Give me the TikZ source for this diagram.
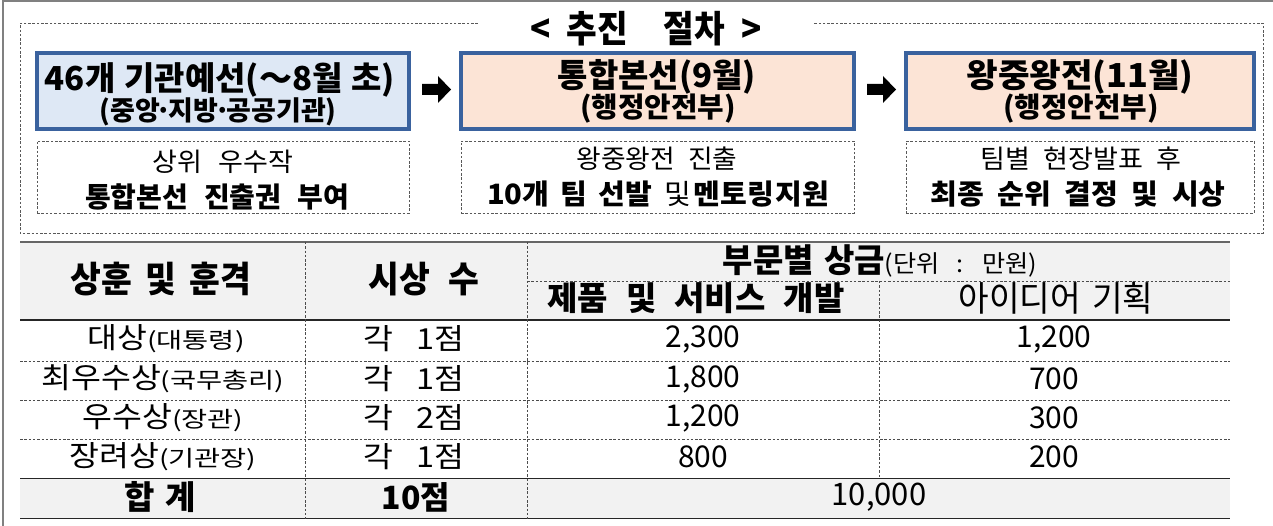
\documentclass[tikz,border=0pt]{standalone}
\usepackage{fontspec}
\usepackage{graphicx}
\setmainfont{Noto Sans CJK KR}
\usetikzlibrary{calc}
\definecolor{boxblue}{RGB}{58,98,158}
\definecolor{bluefill}{RGB}{222,232,245}
\definecolor{peach}{RGB}{252,228,214}
\definecolor{hdrgray}{RGB}{242,242,242}
\definecolor{framegray}{RGB}{128,128,128}
% size, word space
\newcommand{\F}[2]{\fontsize{#1}{#1}\selectfont\spaceskip=#2pt\relax}
% horizontal scaling of a piece of text
\newcommand{\SX}[2]{\scalebox{#1}[1]{#2}}
\newcommand{\md}{\kern-4pt·\kern-4pt}
\tikzset{
  stagebox/.style={draw=boxblue, line width=4pt, inner sep=0pt},
  subbox/.style={draw=black!65, line width=0.9pt, dash pattern=on 2.5pt off 1.8pt, inner sep=0pt},
  txt/.style={inner sep=0pt, anchor=center},
  tline/.style={line width=1.4pt, draw=black!85},
  tdash/.style={line width=0.9pt, draw=black!70, dash pattern=on 2.5pt off 1.8pt},
  blockarrow/.style={fill=black},
}
\begin{document}
\begin{tikzpicture}[x=1pt,y=-1pt]
\useasboundingbox (0,0) rectangle (1273,526);
% outer frame (left and top)
\draw[framegray, line width=2pt] (3,526) -- (3,1) -- (1273,1);

% title and dashed outer box
\node[txt, minimum width=336, font={\bfseries\F{37}{18}}] (title) at (646,29) {\SX{0.9}{< 추진{\hspace{22pt}} 절차 >}};
\draw[subbox] (title.west |- 0,23) -- (20,23) -- (20,233) -- (1263,233) -- (1263,23) -- (title.east |- 0,23);

% stage boxes
\node[stagebox, fill=bluefill, minimum width=372, minimum height=76] (b1) at (223,91) {};
\node[stagebox, fill=peach, minimum width=393, minimum height=76] (b2) at (657.5,91) {};
\node[stagebox, fill=peach, minimum width=348, minimum height=76] (b3) at (1080,91) {};

\node[txt, font={\bfseries\F{33}{9}}] (b1a) at (220,80) {46개 기관예선(～8월 초)};
\node[txt, font={\bfseries\F{27}{8}}] (b1b) at (218,112) {(중앙\md 지방\md 공공기관)};
\node[txt, font={\bfseries\F{33}{8}}] (b2a) at (657,77) {통합본선(9월)};
\node[txt, font={\bfseries\F{28}{8}}] (b2b) at (658,108.5) {\SX{1.03}{(행정안전부)}};
\node[txt, font={\bfseries\F{33}{8}}] (b3a) at (1080,77) {\SX{1.04}{왕중왕전(11월)}};
\node[txt, font={\bfseries\F{28}{8}}] (b3b) at (1081,108.5) {\SX{1.03}{(행정안전부)}};

% block arrows between boxes
\fill[blockarrow] ($(b1.east)+(11,-7)$) -- ++(16,0) -- ++(0,-8) -- ++(13,13.5) -- ++(-13,13.5) -- ++(0,-8) -- ++(-16,0) -- cycle;
\fill[blockarrow] ($(b2.east)+(11,-7)$) -- ++(16,0) -- ++(0,-8) -- ++(13,13.5) -- ++(-13,13.5) -- ++(0,-8) -- ++(-16,0) -- cycle;

% sub boxes
\node[subbox, minimum width=372, minimum height=72] (s1) at (223,177) {};
\node[subbox, minimum width=393, minimum height=72] (s2) at (657.5,177) {};
\node[subbox, minimum width=348, minimum height=72] (s3) at (1080,177) {};

\node[txt, font={\F{26}{16}}] (s1a) at (223,162) {\SX{1.04}{상위 우수작}};
\node[txt, font={\bfseries\F{28}{16}}] (s1b) at (217,196.5) {통합본선 진출권 부여};
\node[txt, font={\F{26}{13}}] (s2a) at (657,159) {\SX{1.03}{왕중왕전 진출}};
\node[txt, font={\bfseries\F{28}{11}}] (s2b) at (658,194.5) {\SX{1.04}{10개 팀 선발 {\mdseries 및}{\spaceskip=3pt\relax{} 멘토링{\spaceskip=1pt\relax{} 지원}}}};
\node[txt, font={\F{26}{13}}] (s3a) at (1081,158.5) {\SX{1.04}{팀별 현장발표 후}};
\node[txt, font={\bfseries\F{28}{13}}] (s3b) at (1078,194.5) {\SX{1.04}{최종 순위 결정 및 시상}};

% table backgrounds
\fill[hdrgray] (20,242) rectangle (1230,320);
\fill[hdrgray] (20,478.3) rectangle (1230,518.7);
% table lines
\draw[tline, draw=black!60] (20,242) -- (1230,242);
\draw[tline] (20,320) -- (1230,320);
\draw[tline] (20,478.3) -- (1230,478.3);
\draw[tline] (20,518.7) -- (1230,518.7);
\draw[tdash] (527,281) -- (1230,281);
\draw[tdash] (20,361.7) -- (1230,361.7);
\draw[tdash] (20,400.7) -- (1230,400.7);
\draw[tdash] (20,439.3) -- (1230,439.3);
\draw[tdash] (305,242) -- (305,518.7);
\draw[tdash] (527,242) -- (527,518.7);
\draw[tdash] (879,281) -- (879,478.3);

% header text
\node[txt, font={\bfseries\F{36}{14}}] (h1) at (161,279) {\SX{0.93}{상훈 및 훈격}};
\node[txt, font={\bfseries\F{36}{19}}] (h2) at (424,279) {\SX{0.93}{시상 수}};
\node[txt, font={\bfseries\F{33}{10}}] (h3) at (880,261) {부문별 상금{\mdseries\F{24}{16}\SX{1.05}{(단위 : 만원)}}};
\node[txt, font={\bfseries\F{33}{18}}] (h4) at (696,298.5) {제품 및 서비스 개발};
\node[txt, font={\F{35}{12}}] (h5) at (1056,298.5) {\SX{0.95}{아이디어 기획}};

% rows
\node[txt, font={\F{29}{8}}] (r1a) at (166,339) {\SX{1.12}{대상}{\F{22}{8}\SX{1.29}{(대통령)}}};
\node[txt, font={\F{29}{20}}] (r1b) at (414,339) {\SX{1.12}{각 1점}};
\node[txt, font={\F{30}{8}}] (r1c) at (703,339) {2,300};
\node[txt, font={\F{30}{8}}] (r1d) at (1054,339) {1,200};

\node[txt, font={\F{29}{8}}] (r2a) at (163,379) {\SX{1.12}{최우수상}{\F{22}{8}\SX{1.29}{(국무총리)}}};
\node[txt, font={\F{29}{20}}] (r2b) at (414,379) {\SX{1.12}{각 1점}};
\node[txt, font={\F{30}{8}}] (r2c) at (703,379) {1,800};
\node[txt, font={\F{30}{8}}] (r2d) at (1054,379) {700};

\node[txt, font={\F{29}{8}}] (r3a) at (163,418) {\SX{1.12}{우수상}{\F{22}{8}\SX{1.29}{(장관)}}};
\node[txt, font={\F{29}{20}}] (r3b) at (414,418) {\SX{1.12}{각 2점}};
\node[txt, font={\F{30}{8}}] (r3c) at (703,418) {1,200};
\node[txt, font={\F{30}{8}}] (r3d) at (1054,418) {300};

\node[txt, font={\F{29}{8}}] (r4a) at (163,457) {\SX{1.12}{장려상}{\F{22}{8}\SX{1.29}{(기관장)}}};
\node[txt, font={\F{29}{20}}] (r4b) at (414,457) {\SX{1.12}{각 1점}};
\node[txt, font={\F{30}{8}}] (r4c) at (703,457) {800};
\node[txt, font={\F{30}{8}}] (r4d) at (1054,457) {200};

\node[txt, font={\bfseries\F{33}{10}}] (t1) at (160,497) {합 계};
\node[txt, font={\bfseries\F{32}{8}}] (t2) at (416,497) {10점};
\node[txt, font={\F{31}{8}}] (t3) at (879,497) {10,000};
\end{tikzpicture}
\end{document}
